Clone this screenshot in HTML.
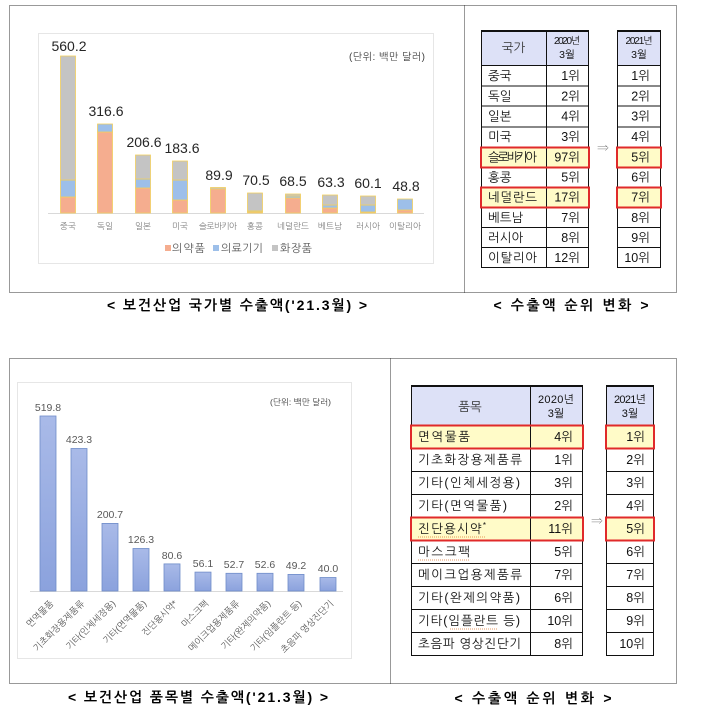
<!DOCTYPE html>
<html><head><meta charset="utf-8"><style>
html,body{margin:0;padding:0;background:#fff;}
svg{display:block;}
text{font-family:"Liberation Sans","NanumGothic","Noto Sans CJK KR",sans-serif;}
</style></head><body>
<svg width="704" height="715" viewBox="0 0 704 715" xmlns="http://www.w3.org/2000/svg">
<defs>
<linearGradient id="bb" x1="0" y1="0" x2="0" y2="1"><stop offset="0" stop-color="#a9bae8"/><stop offset="1" stop-color="#8ba2dd"/></linearGradient>
</defs>
<rect width="704" height="715" fill="#fff"/>
<!-- TOP SECTION frames -->
<g stroke="#333" stroke-width="1" stroke-dasharray="1,1" fill="none">
<rect x="9.5" y="5.5" width="667" height="287"/>
<line x1="464.5" y1="5.5" x2="464.5" y2="292.5"/>
<rect x="9.5" y="358.5" width="667" height="325"/>
<line x1="390.5" y1="358.5" x2="390.5" y2="683.5"/>
</g>
<!-- top chart area -->
<rect x="38.5" y="33.5" width="395" height="230" fill="#fff" stroke="#e6e6e6"/>
<line x1="48" y1="213.5" x2="424" y2="213.5" stroke="#d9d9d9"/>
<text x="425" y="60" font-size="10" fill="#404040" text-anchor="end" textLength="76">(단위: 백만 달러)</text>
<g stroke="#f2cf5e" stroke-width="0.8">
<!-- China -->
<rect x="60.5" y="197" width="15" height="16" fill="#f5ad8f"/>
<rect x="60.5" y="180" width="15" height="17" fill="#9dbfe9"/>
<rect x="60.5" y="56" width="15" height="124" fill="#c4c4c4"/>
<!-- Germany -->
<rect x="97.5" y="132" width="15" height="81" fill="#f5ad8f"/>
<rect x="97.5" y="124" width="15" height="8" fill="#9dbfe9"/>
<!-- Japan -->
<rect x="135.5" y="188" width="15" height="25" fill="#f5ad8f"/>
<rect x="135.5" y="179" width="15" height="9" fill="#9dbfe9"/>
<rect x="135.5" y="155" width="15" height="24" fill="#c4c4c4"/>
<!-- USA -->
<rect x="172.5" y="200" width="15" height="13" fill="#f5ad8f"/>
<rect x="172.5" y="180" width="15" height="20" fill="#9dbfe9"/>
<rect x="172.5" y="161" width="15" height="19" fill="#c4c4c4"/>
<!-- Slovakia -->
<rect x="210.5" y="189" width="15" height="24" fill="#f5ad8f"/>
<rect x="210.5" y="187.5" width="15" height="1.5" fill="#c4c4c4"/>
<!-- HK -->
<rect x="247.5" y="193" width="15" height="18" fill="#c4c4c4"/>
<rect x="247.5" y="211" width="15" height="1" fill="#9dbfe9"/>
<rect x="247.5" y="212" width="15" height="1" fill="#f5ad8f"/>
<!-- NL -->
<rect x="285.5" y="198" width="15" height="15" fill="#f5ad8f"/>
<rect x="285.5" y="196" width="15" height="2" fill="#9dbfe9"/>
<rect x="285.5" y="194" width="15" height="2" fill="#c4c4c4"/>
<!-- VN -->
<rect x="322.5" y="208" width="15" height="5" fill="#f5ad8f"/>
<rect x="322.5" y="205" width="15" height="3" fill="#9dbfe9"/>
<rect x="322.5" y="195" width="15" height="10" fill="#c4c4c4"/>
<!-- RU -->
<rect x="360.5" y="212" width="15" height="1" fill="#f5ad8f"/>
<rect x="360.5" y="205" width="15" height="7" fill="#9dbfe9"/>
<rect x="360.5" y="196" width="15" height="9" fill="#c4c4c4"/>
<!-- IT -->
<rect x="397.5" y="210" width="15" height="3" fill="#f5ad8f"/>
<rect x="397.5" y="199" width="15" height="11" fill="#9dbfe9"/>
</g>
<g font-size="14" fill="#262626" text-anchor="middle">
<text x="69" y="51">560.2</text>
<text x="106" y="116">316.6</text>
<text x="144" y="147">206.6</text>
<text x="182" y="153">183.6</text>
<text x="219" y="180">89.9</text>
<text x="256" y="185">70.5</text>
<text x="293" y="186">68.5</text>
<text x="331" y="187">63.3</text>
<text x="368" y="188">60.1</text>
<text x="406" y="191">48.8</text>
</g>
<g font-size="8.5" fill="#7f7f7f" text-anchor="middle">
<text x="68" y="229">중국</text>
<text x="105" y="229">독일</text>
<text x="143" y="229">일본</text>
<text x="180" y="229">미국</text>
<text x="218" y="229" textLength="38">슬로바키아</text>
<text x="255" y="229">홍콩</text>
<text x="293" y="229">네덜란드</text>
<text x="330" y="229">베트남</text>
<text x="368" y="229">러시아</text>
<text x="405" y="229">이탈리아</text>
</g>
<g font-size="11" fill="#595959">
<rect x="165" y="245" width="6" height="6" fill="#f5ad8f"/>
<text x="172" y="252" textLength="33">의약품</text>
<rect x="213" y="245" width="6" height="6" fill="#9dbfe9"/>
<text x="221" y="252" textLength="42">의료기기</text>
<rect x="272" y="245" width="6" height="6" fill="#c4c4c4"/>
<text x="280" y="252" textLength="32">화장품</text>
</g>
<text x="237" y="310" font-size="14" font-weight="bold" fill="#000" text-anchor="middle" textLength="260">&lt; 보건산업  국가별  수출액('21.3월) &gt;</text>

<!-- TOP RIGHT TABLES -->
<g font-size="12.5" fill="#111">
<rect x="481" y="31" width="108" height="34" fill="#dde1f7"/>
<rect x="617" y="31" width="44" height="34" fill="#dde1f7"/>
<rect x="481" y="147.8" width="108" height="20.2" fill="#fffbc8"/>
<rect x="481" y="188.2" width="108" height="20.2" fill="#fffbc8"/>
<rect x="617" y="147.8" width="44" height="20.2" fill="#fffbc8"/>
<rect x="617" y="188.2" width="44" height="20.2" fill="#fffbc8"/>
<g stroke="#111" stroke-width="1" fill="none">
<rect x="481.5" y="31.5" width="107" height="236"/>
<line x1="546.5" y1="31.5" x2="546.5" y2="267.5"/>
<rect x="617.5" y="31.5" width="43" height="236"/>
<line x1="481" y1="65.5" x2="589" y2="65.5"/><line x1="617" y1="65.5" x2="661" y2="65.5"/>
<line x1="481" y1="86" x2="589" y2="86"/><line x1="617" y1="86" x2="661" y2="86"/>
<line x1="481" y1="106" x2="589" y2="106"/><line x1="617" y1="106" x2="661" y2="106"/>
<line x1="481" y1="127" x2="589" y2="127"/><line x1="617" y1="127" x2="661" y2="127"/>
<line x1="481" y1="147" x2="589" y2="147"/><line x1="617" y1="147" x2="661" y2="147"/>
<line x1="481" y1="167.5" x2="589" y2="167.5"/><line x1="617" y1="167.5" x2="661" y2="167.5"/>
<line x1="481" y1="187.5" x2="589" y2="187.5"/><line x1="617" y1="187.5" x2="661" y2="187.5"/>
<line x1="481" y1="207.5" x2="589" y2="207.5"/><line x1="617" y1="207.5" x2="661" y2="207.5"/>
<line x1="481" y1="227.5" x2="589" y2="227.5"/><line x1="617" y1="227.5" x2="661" y2="227.5"/>
<line x1="481" y1="247.5" x2="589" y2="247.5"/><line x1="617" y1="247.5" x2="661" y2="247.5"/>
<line x1="481" y1="31" x2="589" y2="31" stroke-width="2"/>
<line x1="617" y1="31" x2="661" y2="31" stroke-width="2"/>
</g>
<g stroke="#e02a2a" stroke-width="2" fill="none">
<rect x="481" y="147.5" width="108" height="20"/>
<rect x="481" y="187.5" width="108" height="20"/>
<rect x="617" y="147.5" width="44" height="20"/>
<rect x="617" y="187.5" width="44" height="20"/>
</g>
<text x="513.5" y="52" text-anchor="middle" fill="#333">국가</text>
<text x="567" y="44" font-size="10" text-anchor="middle" textLength="26">2020년</text>
<text x="567" y="58" font-size="10.5" text-anchor="middle">3월</text>
<text x="639" y="44" font-size="10" text-anchor="middle" textLength="27">2021년</text>
<text x="639" y="58" font-size="10.5" text-anchor="middle">3월</text>
<g>
<text x="488" y="80">중국</text>
<text x="488" y="100.5">독일</text>
<text x="488" y="120.5">일본</text>
<text x="488" y="141">미국</text>
<text x="488" y="161.5" textLength="49">슬로바키아</text>
<text x="488" y="181.5">홍콩</text>
<text x="488" y="201.5" textLength="49">네덜란드</text>
<text x="488" y="222">베트남</text>
<text x="488" y="242">러시아</text>
<text x="488" y="262" textLength="49">이탈리아</text>
</g>
<g text-anchor="end">
<text x="580" y="80">1위</text><text x="650" y="80">1위</text>
<text x="580" y="100.5">2위</text><text x="650" y="100.5">2위</text>
<text x="580" y="120.5">4위</text><text x="650" y="120.5">3위</text>
<text x="580" y="141">3위</text><text x="650" y="141">4위</text>
<text x="580" y="161.5">97위</text><text x="650" y="161.5">5위</text>
<text x="580" y="181.5">5위</text><text x="650" y="181.5">6위</text>
<text x="580" y="201.5">17위</text><text x="650" y="201.5">7위</text>
<text x="580" y="222">7위</text><text x="650" y="222">8위</text>
<text x="580" y="242">8위</text><text x="650" y="242">9위</text>
<text x="580" y="262">12위</text><text x="650" y="262">10위</text>
</g>
<text x="603" y="152" font-size="12" fill="#555" text-anchor="middle">⇒</text>
</g>
<text x="571" y="310" font-size="14" font-weight="bold" fill="#000" text-anchor="middle" textLength="155">&lt; 수출액  순위  변화 &gt;</text>

<!-- BOTTOM CHART -->
<rect x="17.5" y="382.5" width="334" height="276" fill="#fff" stroke="#e6e6e6"/>
<line x1="30" y1="591.5" x2="343" y2="591.5" stroke="#d9d9d9"/>
<text x="331" y="405" font-size="8.5" fill="#404040" text-anchor="end" textLength="61">(단위: 백만 달러)</text>
<g fill="url(#bb)" stroke="#6f8cc9" stroke-width="0.8">
<rect x="40" y="416" width="16" height="175"/>
<rect x="71" y="448.5" width="16" height="142.5"/>
<rect x="102" y="523.4" width="16" height="67.6"/>
<rect x="133" y="548.5" width="16" height="42.5"/>
<rect x="164" y="563.9" width="16" height="27.1"/>
<rect x="195" y="572.1" width="16" height="18.9"/>
<rect x="226" y="573.3" width="16" height="17.7"/>
<rect x="257" y="573.3" width="16" height="17.7"/>
<rect x="288" y="574.4" width="16" height="16.6"/>
<rect x="320" y="577.5" width="16" height="13.5"/>
</g>
<g font-size="10.5" fill="#595959" text-anchor="middle">
<text x="48" y="411">519.8</text>
<text x="79" y="443">423.3</text>
<text x="110" y="518">200.7</text>
<text x="141" y="543">126.3</text>
<text x="172" y="559">80.6</text>
<text x="203" y="567">56.1</text>
<text x="234" y="568">52.7</text>
<text x="265" y="568">52.6</text>
<text x="296" y="569">49.2</text>
<text x="328" y="572">40.0</text>
</g>
<g font-size="9" fill="#595959" text-anchor="end">
<text transform="translate(54,604) rotate(-45)">면역물품</text>
<text transform="translate(85,604) rotate(-45)">기초화장용제품류</text>
<text transform="translate(116,604) rotate(-45)">기타(인체세정용)</text>
<text transform="translate(147,604) rotate(-45)">기타(면역물품)</text>
<text transform="translate(178,604) rotate(-45)">진단용시약*</text>
<text transform="translate(209,604) rotate(-45)">마스크팩</text>
<text transform="translate(240,604) rotate(-45)">메이크업용제품류</text>
<text transform="translate(271,604) rotate(-45)">기타(완제의약품)</text>
<text transform="translate(302,604) rotate(-45)">기타(임플란트 등)</text>
<text transform="translate(334,604) rotate(-45)">초음파 영상진단기</text>
</g>
<text x="198" y="702" font-size="14" font-weight="bold" fill="#000" text-anchor="middle" textLength="260">&lt; 보건산업  품목별  수출액('21.3월) &gt;</text>

<!-- BOTTOM RIGHT TABLES -->
<g font-size="12.5" fill="#111">
<rect x="411" y="386" width="172" height="39" fill="#dde1f7"/>
<rect x="606" y="386" width="48" height="39" fill="#dde1f7"/>
<rect x="411" y="425" width="172" height="23" fill="#fffbc8"/>
<rect x="411" y="517" width="172" height="23" fill="#fffbc8"/>
<rect x="606" y="425" width="48" height="23" fill="#fffbc8"/>
<rect x="606" y="517" width="48" height="23" fill="#fffbc8"/>
<g stroke="#111" stroke-width="1" fill="none">
<rect x="411.5" y="386.5" width="171" height="269"/>
<line x1="530.5" y1="386.5" x2="530.5" y2="655.5"/>
<rect x="606.5" y="386.5" width="47" height="269"/>
<line x1="411" y1="425.5" x2="583" y2="425.5"/><line x1="606" y1="425.5" x2="654" y2="425.5"/>
<line x1="411" y1="448.5" x2="583" y2="448.5"/><line x1="606" y1="448.5" x2="654" y2="448.5"/>
<line x1="411" y1="471.5" x2="583" y2="471.5"/><line x1="606" y1="471.5" x2="654" y2="471.5"/>
<line x1="411" y1="494.5" x2="583" y2="494.5"/><line x1="606" y1="494.5" x2="654" y2="494.5"/>
<line x1="411" y1="517.5" x2="583" y2="517.5"/><line x1="606" y1="517.5" x2="654" y2="517.5"/>
<line x1="411" y1="540.5" x2="583" y2="540.5"/><line x1="606" y1="540.5" x2="654" y2="540.5"/>
<line x1="411" y1="563.5" x2="583" y2="563.5"/><line x1="606" y1="563.5" x2="654" y2="563.5"/>
<line x1="411" y1="586.5" x2="583" y2="586.5"/><line x1="606" y1="586.5" x2="654" y2="586.5"/>
<line x1="411" y1="609.5" x2="583" y2="609.5"/><line x1="606" y1="609.5" x2="654" y2="609.5"/>
<line x1="411" y1="632.5" x2="583" y2="632.5"/><line x1="606" y1="632.5" x2="654" y2="632.5"/>
<line x1="411" y1="386" x2="583" y2="386" stroke-width="2"/>
<line x1="606" y1="386" x2="654" y2="386" stroke-width="2"/>
</g>
<g stroke="#e02a2a" stroke-width="2" fill="none">
<rect x="411" y="425.5" width="172" height="23"/>
<rect x="411" y="517.5" width="172" height="23"/>
<rect x="606" y="425.5" width="48" height="23"/>
<rect x="606" y="517.5" width="48" height="23"/>
</g>
<text x="470" y="411" text-anchor="middle" fill="#333">품목</text>
<text x="556" y="403" font-size="11" text-anchor="middle" textLength="36">2020년</text>
<text x="556" y="417" font-size="11" text-anchor="middle">3월</text>
<text x="630" y="403" font-size="11" text-anchor="middle" textLength="32">2021년</text>
<text x="630" y="417" font-size="11" text-anchor="middle">3월</text>
<g>
<text x="418" y="441" textLength="52">면역물품</text>
<text x="418" y="464" textLength="104">기초화장용제품류</text>
<text x="418" y="487" textLength="102">기타(인체세정용)</text>
<text x="418" y="510" textLength="89">기타(면역물품)</text>
<text x="418" y="533" textLength="68">진단용시약<tspan font-size="8" dy="-5">*</tspan></text>
<text x="418" y="556" textLength="52">마스크팩</text>
<text x="418" y="579" textLength="104">메이크업용제품류</text>
<text x="418" y="602" textLength="102">기타(완제의약품)</text>
<text x="418" y="625" textLength="102">기타(임플란트 등)</text>
<text x="418" y="648" textLength="103">초음파 영상진단기</text>
</g>
<g stroke="#e07a30" stroke-width="0.8" stroke-dasharray="1,1">
<line x1="418" y1="537" x2="486" y2="537"/>
<line x1="418" y1="560" x2="470" y2="560"/>
<line x1="450" y1="629" x2="497" y2="629"/>
</g>
<g text-anchor="end">
<text x="573" y="441">4위</text><text x="645" y="441">1위</text>
<text x="573" y="464">1위</text><text x="645" y="464">2위</text>
<text x="573" y="487">3위</text><text x="645" y="487">3위</text>
<text x="573" y="510">2위</text><text x="645" y="510">4위</text>
<text x="573" y="533">11위</text><text x="645" y="533">5위</text>
<text x="573" y="556">5위</text><text x="645" y="556">6위</text>
<text x="573" y="579">7위</text><text x="645" y="579">7위</text>
<text x="573" y="602">6위</text><text x="645" y="602">8위</text>
<text x="573" y="625">10위</text><text x="645" y="625">9위</text>
<text x="573" y="648">8위</text><text x="645" y="648">10위</text>
</g>
<text x="597" y="525" font-size="12" fill="#555" text-anchor="middle">⇒</text>
</g>
<text x="533" y="703" font-size="14" font-weight="bold" fill="#000" text-anchor="middle" textLength="157">&lt; 수출액  순위  변화 &gt;</text>
</svg>
</body></html>
